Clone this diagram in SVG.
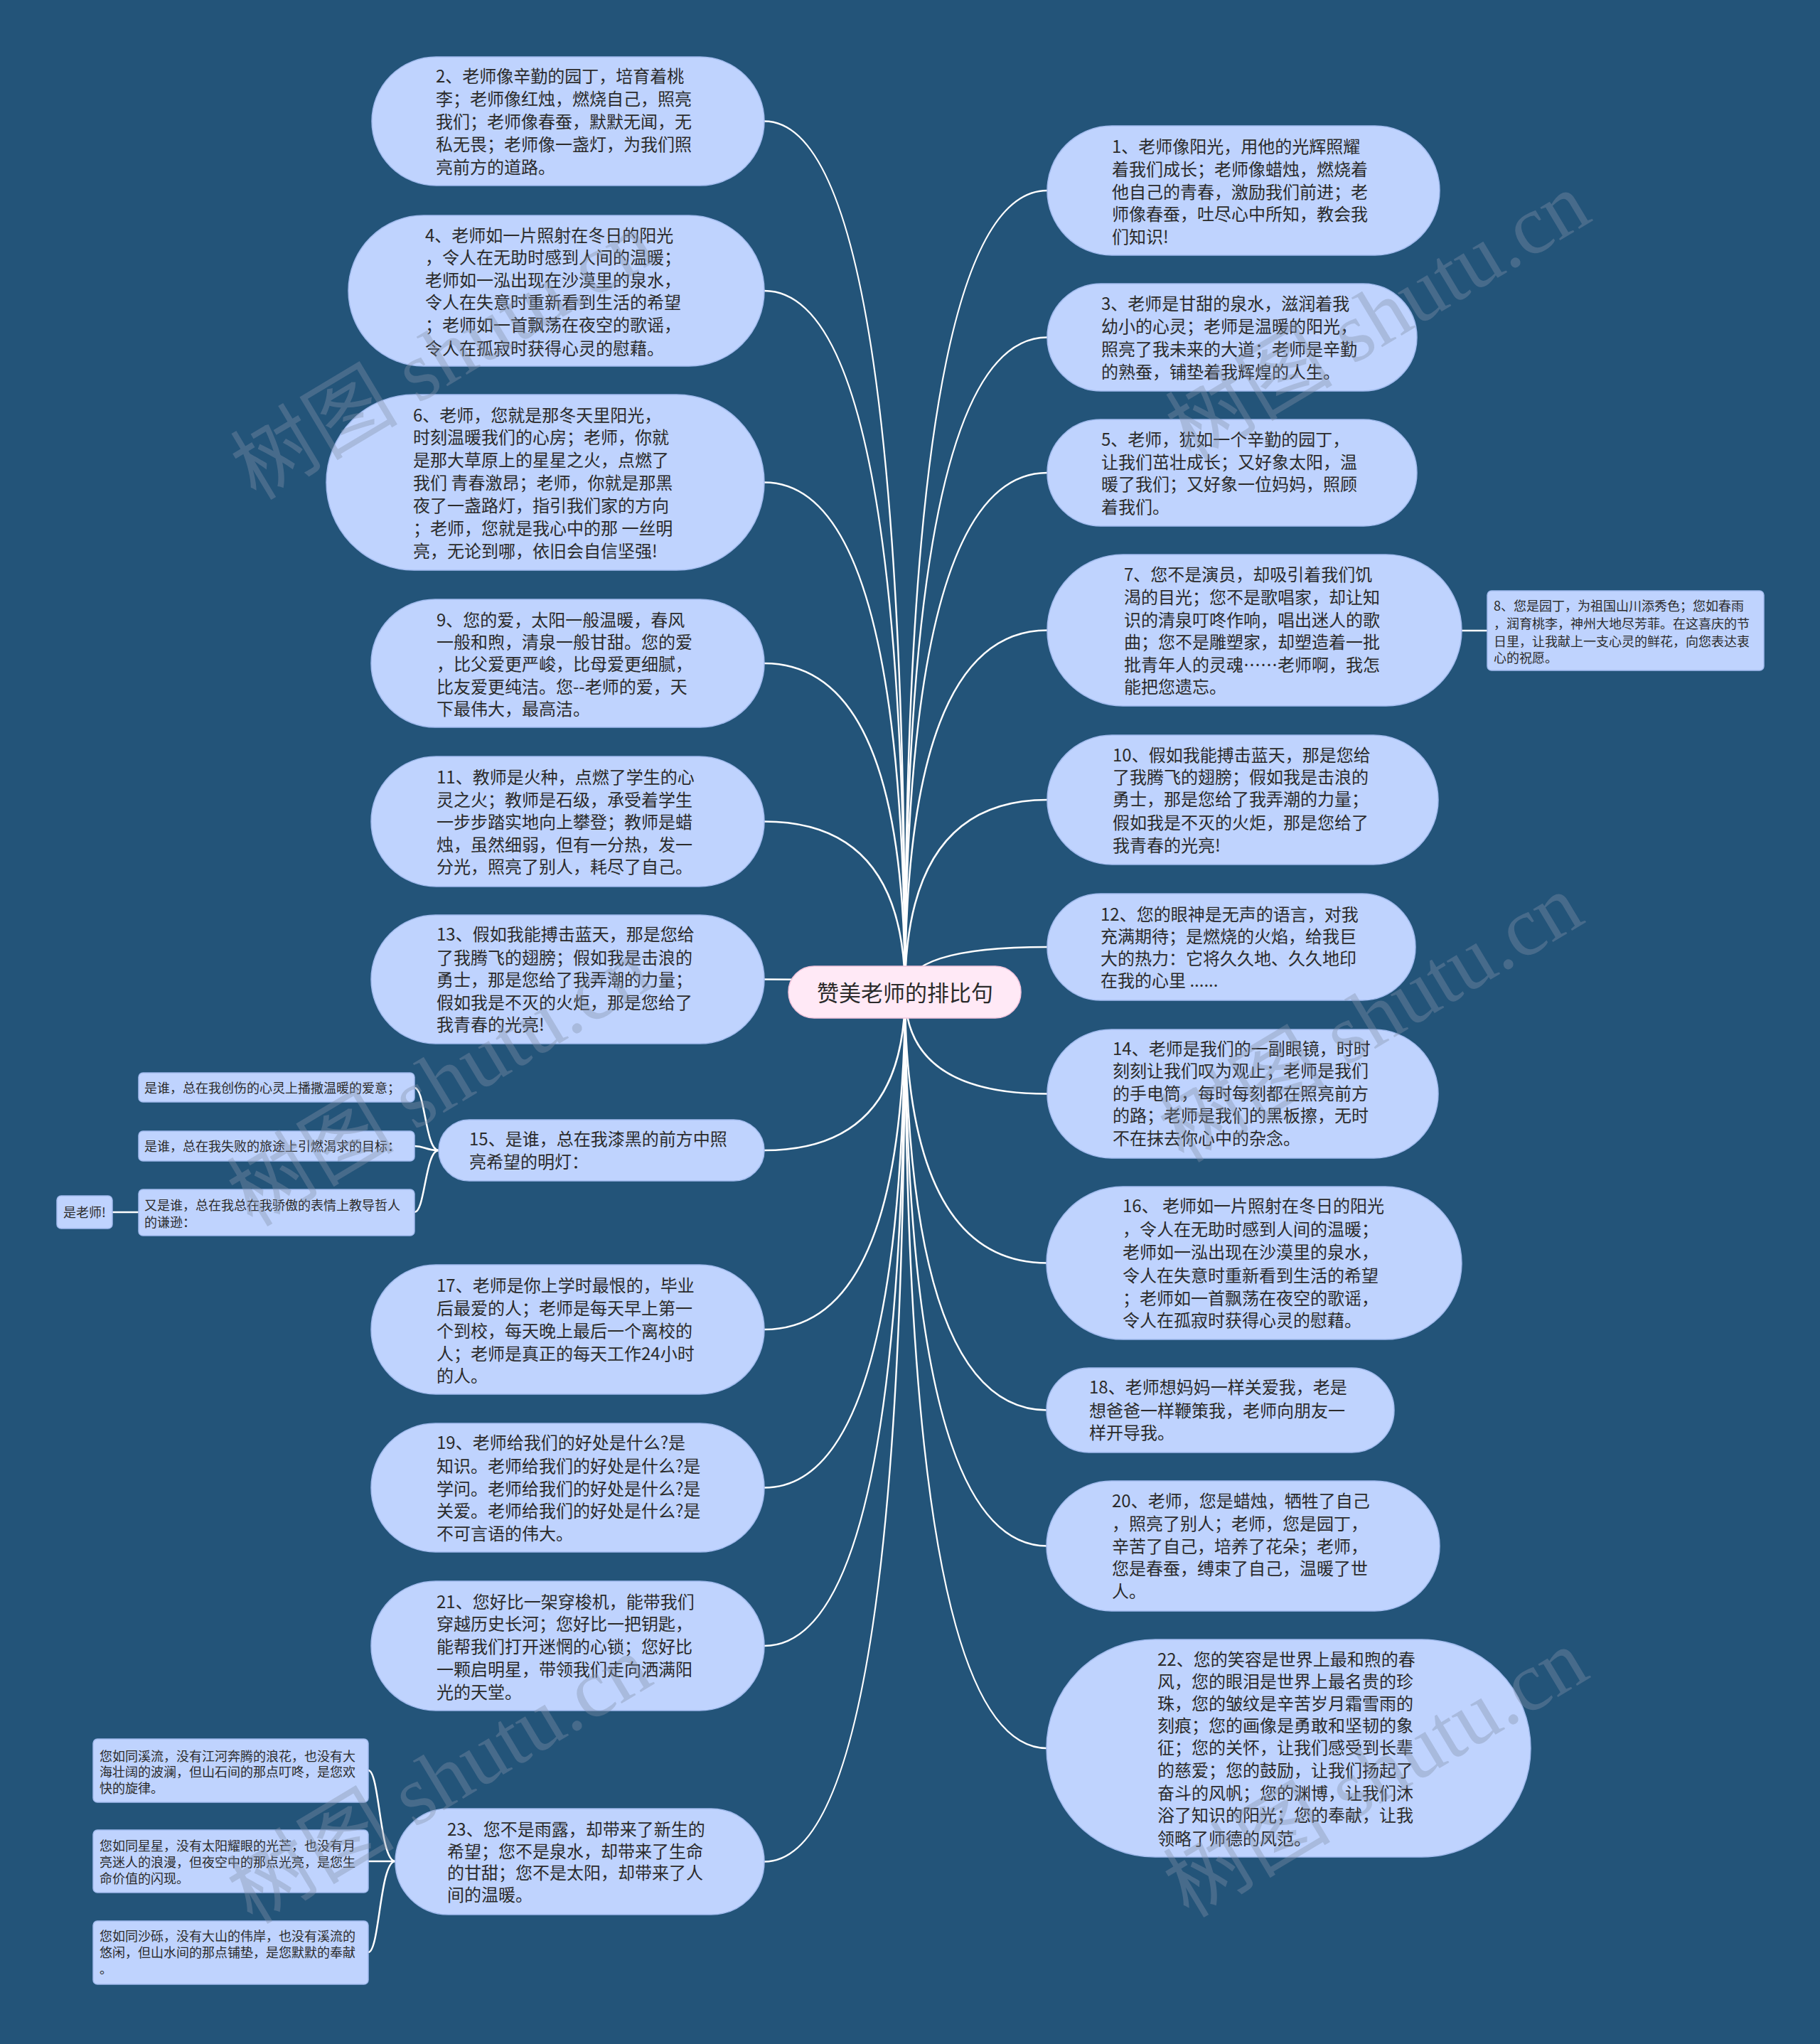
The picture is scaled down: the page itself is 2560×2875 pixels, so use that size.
<svg xmlns="http://www.w3.org/2000/svg" width="2560" height="2875" viewBox="0 0 2560 2875">
<defs>
<style>
.bg{fill:#235479}
.n{fill:#bfd3fe;stroke:#a2bbee;stroke-width:1.5}
.r{fill:#ffe9f6;stroke:#f1c3db;stroke-width:1.5}
.c{fill:none;stroke:#ffffff;stroke-width:2.5}
text{font-family:"Noto Sans CJK SC","Noto Sans",sans-serif;fill:#2b2b2b}
.t{font-size:24px}
.s{font-size:18px}
.rt{font-size:31px;text-anchor:middle}
.w{font-family:"Liberation Serif","Noto Sans CJK SC",serif;font-size:118px;fill:#8391a8;fill-opacity:0.38}
</style>
</defs>
<rect class="bg" x="0" y="0" width="2560" height="2875"/>
<g id="connectors">
<path class="c" d="M1273 1396 Q1273 170.5 1075 170.5"/>
<path class="c" d="M1273 1396 Q1273 409 1075 409"/>
<path class="c" d="M1273 1396 Q1273 678.5 1075 678.5"/>
<path class="c" d="M1273 1396 Q1273 933 1075 933"/>
<path class="c" d="M1273 1396 Q1273 1155.5 1075 1155.5"/>
<path class="c" d="M1273 1396 Q1273 1377.5 1075 1377.5"/>
<path class="c" d="M1273 1396 Q1273 1618 1075 1618"/>
<path class="c" d="M1273 1396 Q1273 1870 1075 1870"/>
<path class="c" d="M1273 1396 Q1273 2092.5 1075 2092.5"/>
<path class="c" d="M1273 1396 Q1273 2315 1075 2315"/>
<path class="c" d="M1273 1396 Q1273 2618.5 1075 2618.5"/>
<path class="c" d="M1273 1396 Q1273 268 1473 268"/>
<path class="c" d="M1273 1396 Q1273 474.5 1473 474.5"/>
<path class="c" d="M1273 1396 Q1273 665 1473 665"/>
<path class="c" d="M1273 1396 Q1273 886.5 1473 886.5"/>
<path class="c" d="M1273 1396 Q1273 1125 1473 1125"/>
<path class="c" d="M1273 1396 Q1273 1332 1473 1332"/>
<path class="c" d="M1273 1396 Q1273 1538.5 1473 1538.5"/>
<path class="c" d="M1273 1396 Q1273 1776.5 1473 1776.5"/>
<path class="c" d="M1273 1396 Q1273 1983.5 1473 1983.5"/>
<path class="c" d="M1273 1396 Q1273 2174.5 1473 2174.5"/>
<path class="c" d="M1273 1396 Q1273 2459 1473 2459"/>
<path class="c" d="M2056 887 L2092 887"/>
<path class="c" d="M617 1618 C598 1618 598 1530 583 1530"/>
<path class="c" d="M617 1618 C598 1618 598 1612 583 1612"/>
<path class="c" d="M617 1618 C598 1618 598 1705 583 1705"/>
<path class="c" d="M195 1705 L158 1705"/>
<path class="c" d="M556 2618 C534 2618 534 2490 518 2490"/>
<path class="c" d="M556 2618 C534 2618 534 2618 518 2618"/>
<path class="c" d="M556 2618 C534 2618 534 2746 518 2746"/>
</g>
<g id="root">
<rect class="r" x="1109" y="1359" width="327" height="73" rx="36"/>
<text class="rt" x="1273" y="1408">赞美老师的排比句</text>
</g>
<g id="n2">
<rect class="n" x="523" y="80" width="552" height="181" rx="90.5"/>
<text class="t" x="613"><tspan x="613" y="116">2、老师像辛勤的园丁，培育着桃</tspan><tspan x="613" y="148">李；老师像红烛，燃烧自己，照亮</tspan><tspan x="613" y="180">我们；老师像春蚕，默默无闻，无</tspan><tspan x="613" y="212">私无畏；老师像一盏灯，为我们照</tspan><tspan x="613" y="244">亮前方的道路。</tspan></text>
</g>
<g id="n4">
<rect class="n" x="490" y="303" width="585" height="212" rx="106"/>
<text class="t"><tspan x="598" y="340">4、老师如一片照射在冬日的阳光</tspan><tspan x="598" y="371">，令人在无助时感到人间的温暖；</tspan><tspan x="598" y="403">老师如一泓出现在沙漠里的泉水，</tspan><tspan x="598" y="434">令人在失意时重新看到生活的希望</tspan><tspan x="598" y="466">；老师如一首飘荡在夜空的歌谣，</tspan><tspan x="598" y="499">令人在孤寂时获得心灵的慰藉。</tspan></text>
</g>
<g id="n6">
<rect class="n" x="459" y="555" width="616" height="247" rx="123.5"/>
<text class="t"><tspan x="581" y="593">6、老师，您就是那冬天里阳光，</tspan><tspan x="581" y="624">时刻温暖我们的心房；老师，你就</tspan><tspan x="581" y="656">是那大草原上的星星之火，点燃了</tspan><tspan x="581" y="688">我们 青春激昂；老师，你就是那黑</tspan><tspan x="581" y="720">夜了一盏路灯，指引我们家的方向</tspan><tspan x="581" y="752">；老师，您就是我心中的那 一丝明</tspan><tspan x="581" y="784">亮，无论到哪，依旧会自信坚强!</tspan></text>
</g>
<g id="n9">
<rect class="n" x="522" y="843" width="553" height="180" rx="90"/>
<text class="t"><tspan x="614" y="881">9、您的爱，太阳一般温暖，春风</tspan><tspan x="614" y="912">一般和煦，清泉一般甘甜。您的爱</tspan><tspan x="614" y="943">，比父爱更严峻，比母爱更细腻，</tspan><tspan x="614" y="975">比友爱更纯洁。您--老师的爱，天</tspan><tspan x="614" y="1006">下最伟大，最高洁。</tspan></text>
</g>
<g id="n11">
<rect class="n" x="522" y="1064" width="553" height="183" rx="91.5"/>
<text class="t"><tspan x="614" y="1102">11、教师是火种，点燃了学生的心</tspan><tspan x="614" y="1134">灵之火；教师是石级，承受着学生</tspan><tspan x="614" y="1165">一步步踏实地向上攀登；教师是蜡</tspan><tspan x="614" y="1197">烛，虽然细弱，但有一分热，发一</tspan><tspan x="614" y="1228">分光，照亮了别人，耗尽了自己。</tspan></text>
</g>
<g id="n13">
<rect class="n" x="522" y="1287" width="553" height="181" rx="90.5"/>
<text class="t"><tspan x="614" y="1323">13、假如我能搏击蓝天，那是您给</tspan><tspan x="614" y="1356">了我腾飞的翅膀；假如我是击浪的</tspan><tspan x="614" y="1387">勇士，那是您给了我弄潮的力量；</tspan><tspan x="614" y="1419">假如我是不灭的火炬，那是您给了</tspan><tspan x="614" y="1450">我青春的光亮!</tspan></text>
</g>
<g id="n15">
<rect class="n" x="617" y="1575" width="458" height="86" rx="43"/>
<text class="t"><tspan x="660" y="1611">15、是谁，总在我漆黑的前方中照</tspan><tspan x="660" y="1643">亮希望的明灯：</tspan></text>
</g>
<g id="n15a">
<rect class="n" x="195" y="1509" width="388" height="41" rx="6"/>
<text class="s" x="203" y="1537">是谁，总在我创伤的心灵上播撒温暖的爱意；</text>
</g>
<g id="n15b">
<rect class="n" x="195" y="1591" width="388" height="42" rx="6"/>
<text class="s" x="203" y="1619">是谁，总在我失败的旅途上引燃渴求的目标：</text>
</g>
<g id="n15c">
<rect class="n" x="195" y="1673" width="388" height="65" rx="6"/>
<text class="s"><tspan x="203" y="1702">又是谁，总在我总在我骄傲的表情上教导哲人</tspan><tspan x="203" y="1726">的谦逊：</tspan></text>
</g>
<g id="n15c1">
<rect class="n" x="80" y="1682" width="78" height="46" rx="6"/>
<text class="s" x="119" y="1712" text-anchor="middle">是老师!</text>
</g>
<g id="n17">
<rect class="n" x="522" y="1779" width="553" height="182" rx="91"/>
<text class="t"><tspan x="614" y="1817">17、老师是你上学时最恨的，毕业</tspan><tspan x="614" y="1849">后最爱的人；老师是每天早上第一</tspan><tspan x="614" y="1881">个到校，每天晚上最后一个离校的</tspan><tspan x="614" y="1913">人；老师是真正的每天工作24小时</tspan><tspan x="614" y="1944">的人。</tspan></text>
</g>
<g id="n19">
<rect class="n" x="522" y="2002" width="553" height="181" rx="90.5"/>
<text class="t"><tspan x="614" y="2038">19、老师给我们的好处是什么?是</tspan><tspan x="614" y="2071">知识。老师给我们的好处是什么?是</tspan><tspan x="614" y="2103">学问。老师给我们的好处是什么?是</tspan><tspan x="614" y="2134">关爱。老师给我们的好处是什么?是</tspan><tspan x="614" y="2166">不可言语的伟大。</tspan></text>
</g>
<g id="n21">
<rect class="n" x="522" y="2224" width="553" height="182" rx="91"/>
<text class="t"><tspan x="614" y="2262">21、您好比一架穿梭机，能带我们</tspan><tspan x="614" y="2293">穿越历史长河；您好比一把钥匙，</tspan><tspan x="614" y="2325">能帮我们打开迷惘的心锁；您好比</tspan><tspan x="614" y="2357">一颗启明星，带领我们走向洒满阳</tspan><tspan x="614" y="2389">光的天堂。</tspan></text>
</g>
<g id="n23">
<rect class="n" x="556" y="2544" width="519" height="149" rx="74.5"/>
<text class="t"><tspan x="629" y="2582">23、您不是雨露，却带来了新生的</tspan><tspan x="629" y="2613">希望；您不是泉水，却带来了生命</tspan><tspan x="629" y="2643">的甘甜；您不是太阳，却带来了人</tspan><tspan x="629" y="2674">间的温暖。</tspan></text>
</g>
<g id="n23a">
<rect class="n" x="131" y="2446" width="387" height="89" rx="6"/>
<text class="s"><tspan x="140" y="2477">您如同溪流，没有江河奔腾的浪花，也没有大</tspan><tspan x="140" y="2499">海壮阔的波澜，但山石间的那点叮咚，是您欢</tspan><tspan x="140" y="2522">快的旋律。</tspan></text>
</g>
<g id="n23b">
<rect class="n" x="131" y="2574" width="387" height="88" rx="6"/>
<text class="s"><tspan x="140" y="2603">您如同星星，没有太阳耀眼的光芒，也没有月</tspan><tspan x="140" y="2626">亮迷人的浪漫，但夜空中的那点光亮，是您生</tspan><tspan x="140" y="2649">命价值的闪现。</tspan></text>
</g>
<g id="n23c">
<rect class="n" x="131" y="2702" width="387" height="89" rx="6"/>
<text class="s"><tspan x="140" y="2730">您如同沙砾，没有大山的伟岸，也没有溪流的</tspan><tspan x="140" y="2753">悠闲，但山水间的那点铺垫，是您默默的奉献</tspan><tspan x="140" y="2776">。</tspan></text>
</g>
<g id="n1">
<rect class="n" x="1473" y="177" width="552" height="182" rx="91"/>
<text class="t"><tspan x="1564" y="215">1、老师像阳光，用他的光辉照耀</tspan><tspan x="1564" y="247">着我们成长；老师像蜡烛，燃烧着</tspan><tspan x="1564" y="279">他自己的青春，激励我们前进；老</tspan><tspan x="1564" y="310">师像春蚕，吐尽心中所知，教会我</tspan><tspan x="1564" y="342">们知识!</tspan></text>
</g>
<g id="n3">
<rect class="n" x="1473" y="399" width="520" height="151" rx="75.5"/>
<text class="t"><tspan x="1549" y="436">3、老师是甘甜的泉水，滋润着我</tspan><tspan x="1549" y="468">幼小的心灵；老师是温暖的阳光，</tspan><tspan x="1549" y="500">照亮了我未来的大道；老师是辛勤</tspan><tspan x="1549" y="532">的熟蚕，铺垫着我辉煌的人生。</tspan></text>
</g>
<g id="n5">
<rect class="n" x="1473" y="590" width="520" height="150" rx="75"/>
<text class="t"><tspan x="1549" y="627">5、老师，犹如一个辛勤的园丁，</tspan><tspan x="1549" y="659">让我们茁壮成长；又好象太阳，温</tspan><tspan x="1549" y="690">暖了我们；又好象一位妈妈，照顾</tspan><tspan x="1549" y="722">着我们。</tspan></text>
</g>
<g id="n7">
<rect class="n" x="1473" y="780" width="583" height="213" rx="106.5"/>
<text class="t"><tspan x="1581" y="817">7、您不是演员，却吸引着我们饥</tspan><tspan x="1581" y="849">渴的目光；您不是歌唱家，却让知</tspan><tspan x="1581" y="881">识的清泉叮咚作响，唱出迷人的歌</tspan><tspan x="1581" y="912">曲；您不是雕塑家，却塑造着一批</tspan><tspan x="1581" y="944">批青年人的灵魂……老师啊，我怎</tspan><tspan x="1581" y="975">能把您遗忘。</tspan></text>
</g>
<g id="n8">
<rect class="n" x="2092" y="831" width="389" height="112" rx="6"/>
<text class="s"><tspan x="2101" y="859">8、您是园丁，为祖国山川添秀色；您如春雨</tspan><tspan x="2101" y="884">，润育桃李，神州大地尽芳菲。在这喜庆的节</tspan><tspan x="2101" y="909">日里，让我献上一支心灵的鲜花，向您表达衷</tspan><tspan x="2101" y="932">心的祝愿。</tspan></text>
</g>
<g id="n10">
<rect class="n" x="1473" y="1034" width="550" height="182" rx="91"/>
<text class="t"><tspan x="1565" y="1071">10、假如我能搏击蓝天，那是您给</tspan><tspan x="1565" y="1102">了我腾飞的翅膀；假如我是击浪的</tspan><tspan x="1565" y="1133">勇士，那是您给了我弄潮的力量；</tspan><tspan x="1565" y="1166">假如我是不灭的火炬，那是您给了</tspan><tspan x="1565" y="1198">我青春的光亮!</tspan></text>
</g>
<g id="n12">
<rect class="n" x="1473" y="1257" width="518" height="150" rx="75"/>
<text class="t"><tspan x="1548" y="1295">12、您的眼神是无声的语言，对我</tspan><tspan x="1548" y="1326">充满期待；是燃烧的火焰，给我巨</tspan><tspan x="1548" y="1357">大的热力：它将久久地、久久地印</tspan><tspan x="1548" y="1388">在我的心里 ......</tspan></text>
</g>
<g id="n14">
<rect class="n" x="1473" y="1448" width="550" height="181" rx="90.5"/>
<text class="t"><tspan x="1565" y="1484">14、老师是我们的一副眼镜，时时</tspan><tspan x="1565" y="1515">刻刻让我们叹为观止；老师是我们</tspan><tspan x="1565" y="1547">的手电筒，每时每刻都在照亮前方</tspan><tspan x="1565" y="1578">的路；老师是我们的黑板擦，无时</tspan><tspan x="1565" y="1610">不在抹去你心中的杂念。</tspan></text>
</g>
<g id="n16">
<rect class="n" x="1472" y="1669" width="584" height="215" rx="107.5"/>
<text class="t"><tspan x="1579" y="1705">16、 老师如一片照射在冬日的阳光</tspan><tspan x="1579" y="1738">，令人在无助时感到人间的温暖；</tspan><tspan x="1579" y="1770">老师如一泓出现在沙漠里的泉水，</tspan><tspan x="1579" y="1803">令人在失意时重新看到生活的希望</tspan><tspan x="1579" y="1835">；老师如一首飘荡在夜空的歌谣，</tspan><tspan x="1579" y="1866">令人在孤寂时获得心灵的慰藉。</tspan></text>
</g>
<g id="n18">
<rect class="n" x="1472" y="1924" width="489" height="119" rx="59.5"/>
<text class="t"><tspan x="1532" y="1960">18、老师想妈妈一样关爱我，老是</tspan><tspan x="1532" y="1993">想爸爸一样鞭策我，老师向朋友一</tspan><tspan x="1532" y="2024">样开导我。</tspan></text>
</g>
<g id="n20">
<rect class="n" x="1472" y="2083" width="553" height="183" rx="91.5"/>
<text class="t"><tspan x="1564" y="2120">20、老师，您是蜡烛，牺牲了自己</tspan><tspan x="1564" y="2152">，照亮了别人；老师，您是园丁，</tspan><tspan x="1564" y="2184">辛苦了自己，培养了花朵；老师，</tspan><tspan x="1564" y="2215">您是春蚕，缚束了自己，温暖了世</tspan><tspan x="1564" y="2247">人。</tspan></text>
</g>
<g id="n22">
<rect class="n" x="1472" y="2306" width="681" height="306" rx="153"/>
<text class="t"><tspan x="1628" y="2343">22、您的笑容是世界上最和煦的春</tspan><tspan x="1628" y="2374">风，您的眼泪是世界上最名贵的珍</tspan><tspan x="1628" y="2405">珠，您的皱纹是辛苦岁月霜雪雨的</tspan><tspan x="1628" y="2436">刻痕；您的画像是勇敢和坚韧的象</tspan><tspan x="1628" y="2467">征；您的关怀，让我们感受到长辈</tspan><tspan x="1628" y="2499">的慈爱；您的鼓励，让我们扬起了</tspan><tspan x="1628" y="2531">奋斗的风帆；您的渊博，让我们沐</tspan><tspan x="1628" y="2562">浴了知识的阳光；您的奉献，让我</tspan><tspan x="1628" y="2595">领略了师德的风范。</tspan></text>
</g>
<g id="watermarks">
<text class="w" x="360" y="705" transform="rotate(-31 360 705)">树图 shutu.cn</text>
<text class="w" x="1675" y="650" transform="rotate(-31 1675 650)">树图 shutu.cn</text>
<text class="w" x="355" y="1727" transform="rotate(-31 355 1727)">树图 shutu.cn</text>
<text class="w" x="1665" y="1637" transform="rotate(-31 1665 1637)">树图 shutu.cn</text>
<text class="w" x="355" y="2708" transform="rotate(-31 355 2708)">树图 shutu.cn</text>
<text class="w" x="1672" y="2699" transform="rotate(-31 1672 2699)">树图 shutu.cn</text>
</g>
</svg>
